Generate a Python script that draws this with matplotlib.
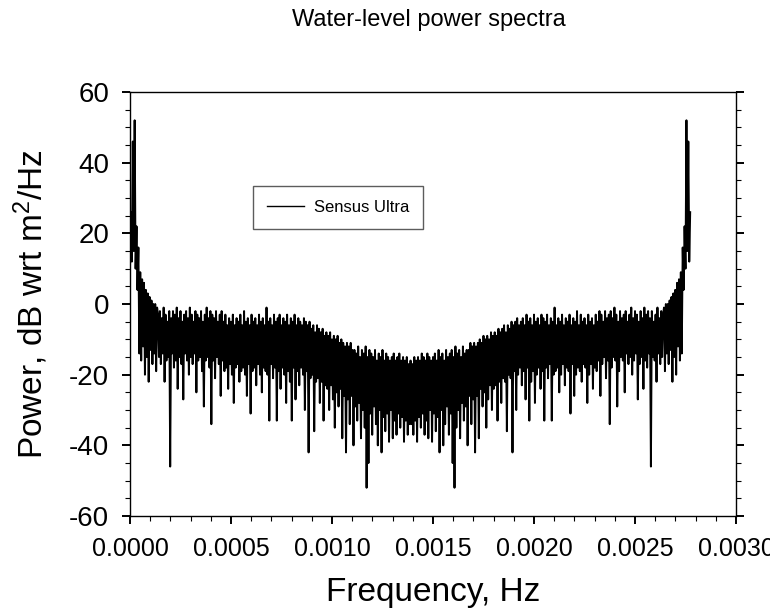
import numpy as np
import matplotlib
matplotlib.use('Agg')
import matplotlib.pyplot as plt
from matplotlib.ticker import MultipleLocator, FormatStrFormatter

plt.rcParams['font.family'] = ['Liberation Sans', 'DejaVu Sans']
plt.rcParams['axes.unicode_minus'] = False
plt.rcParams['mathtext.fontset'] = 'custom'
plt.rcParams['mathtext.rm'] = 'Liberation Sans'
plt.rcParams['mathtext.it'] = 'Liberation Sans:italic'

# Power spectrum values (dB), one half of the
# two-sided spectrum (bins 0 .. N/2); the other half is its mirror image.
half_db = [
    10, 26, 12, 46, 15, 52, 10, 22, 4, 16,
    -14, 9, -16, 7, -12, 6, -20, 4, -15, 3, -22, 2, -13, 1, -17, 0, -14, 0, -19, -1,
    -3, -15, -2, -17, -4, -14, -1, -22, -3, -16, -5, -15, -2, -46, -4, -14, -2, -18, -3, -16,
    -1, -24, -4, -15, -2, -17, -5, -27, -3, -14, -2, -16, -4, -20, -1, -15, -3, -17, -5, -14,
    -2, -25, -3, -16, -4, -15, -2, -19, -5, -29, -3, -16, -1, -15, -4, -18, -2, -34, -3, -16,
    -4, -21, -2, -15, -5, -17, -3, -26, -2, -16,
    -5, -19, -3, -18, -6, -24, -4, -17, -5, -20, -3, -28, -6, -18, -4, -17, -5, -22, -3, -19,
    -6, -18, -2, -20, -5, -26, -4, -17, -6, -31, -3, -19, -5, -18, -4, -23, -6, -17, -3, -20,
    -5, -25, -4, -18, -6, -19, -1, -20, -5, -33, -4, -17, -6, -21, -3, -18, -5, -33, -4, -19,
    -3, -24, -6, -18, -4, -20, -5, -28, -3, -19, -6, -22, -4, -33, -5, -18, -3, -27, -6, -19,
    -4, -23, -5, -18, -6, -20, -4, -30, -5, -19,
    -6, -42, -5, -21, -7, -20, -6, -36, -8, -22, -6, -21, -7, -28, -8, -22, -7, -33, -9, -23,
    -8, -24, -9, -30, -8, -23, -10, -27, -9, -35, -10, -25, -9, -29, -11, -24, -10, -38, -11, -26,
    -12, -42, -11, -27, -12, -34, -11, -26, -13, -40,
    -13, -29, -14, -33, -12, -28, -15, -38, -13, -30, -14, -35, -12, -52, -15, -45, -13, -31, -14, -37,
    -15, -29, -13, -34, -16, -40, -14, -30, -15, -42, -13, -32, -16, -36, -14, -31, -15, -39, -16, -30,
    -15, -38, -14, -33, -16, -37, -15, -31, -14, -35, -16, -32, -15, -39, -16, -33, -15, -37, -17, -34, -16,
]
bin_width = 4.63e-6  # Hz

power_db = np.array(half_db + half_db[-2:0:-1], dtype=float)
freq = np.arange(len(power_db)) * bin_width

fig = plt.figure(figsize=(7.7, 6.16), dpi=100)
ax = fig.add_axes([0.1688, 0.1623, 0.787, 0.6883])

ax.plot(freq, power_db, color='black', lw=1.4, label='Sensus Ultra')

ax.set_xlim(0, 0.003)
ax.set_ylim(-60, 60)
ax.xaxis.set_major_locator(MultipleLocator(0.0005))
ax.xaxis.set_minor_locator(MultipleLocator(0.0001))
ax.yaxis.set_major_locator(MultipleLocator(20))
ax.yaxis.set_minor_locator(MultipleLocator(5))
ax.xaxis.set_major_formatter(FormatStrFormatter('%.4f'))

ax.tick_params(which='major', direction='out', length=6, width=1.4,
               right=True, top=False)
ax.tick_params(which='minor', direction='out', length=3.5, width=0.8,
               right=True, top=False)
ax.tick_params(axis='x', labelsize=18, pad=9)
ax.tick_params(axis='y', labelsize=20, pad=9)
for s in ax.spines.values():
    s.set_linewidth(1.0)

ax.set_xlabel('Frequency, Hz', fontsize=24)
ax.set_ylabel('Power, dB wrt m$^{2}$/Hz', fontsize=24)
ax.xaxis.set_label_coords(0.5, -0.144)
ax.yaxis.set_label_coords(-0.132, 0.5)

fig.text(0.557, 0.967, 'Water-level power spectra', ha='center', va='center',
         fontsize=17)

leg = ax.legend(loc='upper left', bbox_to_anchor=(0.203, 0.778), fontsize=12,
                frameon=True, fancybox=False, edgecolor='#333333',
                borderaxespad=0, handlelength=2.2, borderpad=0.85,
                handletextpad=0.6)
leg.get_frame().set_linewidth(1.0)
leg.get_lines()[0].set_linewidth(1.0)

fig.savefig('out.png', dpi=100)
